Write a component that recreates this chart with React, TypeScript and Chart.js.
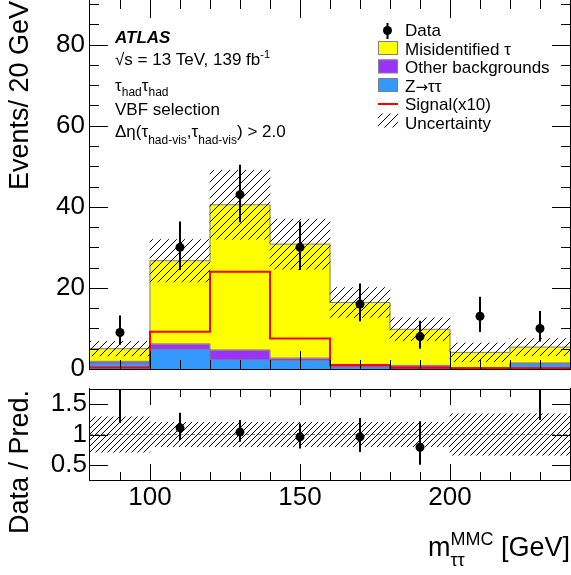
import React, { useEffect, useRef } from 'react';
import { Chart, registerables } from 'chart.js';
Chart.register(...registerables);

const FONT = '"Liberation Sans", Arial, Helvetica, sans-serif';

// ---------------- data ----------------
const binEdges = [80, 100, 120, 140, 160, 180, 200, 220, 240];
const binCenters = [90, 110, 130, 150, 170, 190, 210, 230];
const zttValues = [1.5, 4.9, 2.3, 2.1, 0.5, 0.2, 0.15, 1.3];
const otherValues = [0.4, 1.3, 2.4, 0.6, 0.5, 0.7, 0.2, 0.2];
const misidValues = [3.1, 20.5, 35.8, 28.1, 15.4, 8.9, 3.75, 3.9];
const signalX10 = [0.35, 9.2, 24.0, 7.5, 1.0, 0.3, 0.2, 0.2];
const uncertainty = [1.8, 5.2, 8.5, 6.2, 3.7, 2.8, 2.3, 2.1];
const dataCounts = [9, 30, 43, 30, 16, 8, 13, 10];
const dataErrLow = [6.0, 24.4, 36.2, 24.4, 11.8, 5.0, 9.1, 6.8];
const dataErrHigh = [13.2, 36.4, 50.4, 36.4, 21.1, 11.9, 17.8, 14.3];
const ratioValues = [1.84, 1.11, 1.04, 0.96, 0.96, 0.79, 3.2, 1.85];
const ratioErrLow = [1.19, 0.91, 0.88, 0.77, 0.71, 0.5, 2.2, 1.24];
const ratioErrHigh = [2.64, 1.36, 1.24, 1.18, 1.27, 1.22, 4.4, 2.65];
const ratioBand = [0.29, 0.2, 0.2, 0.2, 0.2, 0.2, 0.34, 0.34];
const yTicksMain = [0, 20, 40, 60, 80];
const yTicksRatio = [0.5, 1, 1.5];
const xTickLabels = [100, 150, 200];

const COL_MISID = '#ffff00';
const COL_OTHER = '#9933ff';
const COL_ZTT = '#3399ff';
const COL_SIG = '#ff0000';
const COL_EDGE = '#808080';

// ---------------- helpers ----------------
function makeHatch(period: number, lw = 1): CanvasPattern {
  const c = document.createElement('canvas');
  c.width = period;
  c.height = period;
  const g = c.getContext('2d')!;
  g.strokeStyle = '#000';
  g.lineWidth = lw;
  g.beginPath();
  for (const o of [-period, 0, period]) {
    g.moveTo(o, period);
    g.lineTo(o + period, 0);
  }
  g.stroke();
  return g.createPattern(c, 'repeat')!;
}

// points at left bin edges plus the final right edge; drawn with stepped 'before'
const stepPoints = (vals: number[]) => [
  ...vals.map((v, i) => ({ x: binEdges[i], y: v })),
  { x: binEdges[binEdges.length - 1], y: vals[vals.length - 1] },
];

type Seg = { t: string; size: number; dy?: number; bold?: boolean; italic?: boolean; noAdvance?: boolean; family?: string };
function fontOf(s: Seg) {
  return `${s.italic ? 'italic ' : ''}${s.bold ? 'bold ' : ''}${s.size}px ${s.family || FONT}`;
}
function measureRich(ctx: CanvasRenderingContext2D, segs: Seg[]) {
  let w = 0;
  let pending = 0;
  for (const s of segs) {
    ctx.font = fontOf(s);
    const m = ctx.measureText(s.t).width;
    if (s.noAdvance) pending = m;
    else {
      w += Math.max(m, pending);
      pending = 0;
    }
  }
  return w;
}
function drawRich(ctx: CanvasRenderingContext2D, x: number, y: number, segs: Seg[]) {
  let cx = x;
  let pending = 0;
  ctx.textAlign = 'left';
  ctx.textBaseline = 'alphabetic';
  for (const s of segs) {
    ctx.font = fontOf(s);
    ctx.fillText(s.t, cx, y + (s.dy || 0));
    const m = ctx.measureText(s.t).width;
    if (s.noAdvance) pending = m;
    else {
      cx += Math.max(m, pending);
      pending = 0;
    }
  }
}

function hline(ctx: CanvasRenderingContext2D, x1: number, x2: number, y: number) {
  ctx.beginPath();
  ctx.moveTo(x1, y);
  ctx.lineTo(x2, y);
  ctx.stroke();
}
function vline(ctx: CanvasRenderingContext2D, x: number, y1: number, y2: number) {
  ctx.beginPath();
  ctx.moveTo(x, y1);
  ctx.lineTo(x, y2);
  ctx.stroke();
}

function drawFrameTicks(chart: any, cfg: any) {
  const { ctx, chartArea: a, scales } = chart;
  const { x, y } = scales;
  ctx.save();
  ctx.strokeStyle = '#000';
  ctx.lineWidth = 1;
  const L = a.left - 0.5;
  const R = a.right + 0.5;
  const B = a.bottom + 0.5;
  const T = a.top + 0.5;
  vline(ctx, L, a.top - 1, a.bottom + 1);
  vline(ctx, R, a.top - 1, a.bottom + 1);
  hline(ctx, L, R, B);
  if (cfg.drawTop) hline(ctx, L, R, T);
  for (let v = cfg.xMin + cfg.xMinorStep; v < cfg.xMax; v += cfg.xMinorStep) {
    const isMajor = cfg.xMajor.includes(v);
    const len = isMajor ? cfg.xMajorLen : cfg.xMinorLen;
    const px = Math.round(x.getPixelForValue(v)) + 0.5;
    vline(ctx, px, a.bottom, a.bottom - len);
    vline(ctx, px, a.top, a.top + len);
  }
  const yl: number[] = [];
  if (cfg.yMinorStep) {
    for (let v = cfg.yMin; v <= cfg.yMax + 1e-9; v += cfg.yMinorStep) yl.push(Math.round(v * 1000) / 1000);
  }
  for (const v of cfg.yMajor) if (!yl.includes(v)) yl.push(v);
  for (const v of yl) {
    const isMajor = cfg.yMajor.includes(v);
    const len = isMajor ? cfg.yMajorLen : cfg.yMinorLen;
    const py = Math.round(y.getPixelForValue(v)) + 0.5;
    if (py < a.top || py > a.bottom + 1) continue;
    hline(ctx, a.left, a.left + len, py);
    hline(ctx, a.right - len, a.right, py);
  }
  ctx.restore();
}

function drawErrorBars(chart: any, lo: number[], hi: number[]) {
  const { ctx, chartArea: a, scales } = chart;
  const { x, y } = scales;
  ctx.save();
  ctx.beginPath();
  ctx.rect(a.left, a.top, a.right - a.left, a.bottom - a.top);
  ctx.clip();
  ctx.strokeStyle = '#000';
  ctx.lineWidth = 2;
  binCenters.forEach((c, i) => {
    const px = x.getPixelForValue(c);
    vline(ctx, px, y.getPixelForValue(lo[i]), y.getPixelForValue(hi[i]));
  });
  ctx.restore();
}

function drawVerticalTitle(ctx: CanvasRenderingContext2D, text: string, cx: number, topY: number, size: number) {
  ctx.save();
  ctx.translate(cx, topY);
  ctx.rotate(-Math.PI / 2);
  ctx.font = `${size}px ${FONT}`;
  ctx.fillStyle = '#000';
  ctx.textAlign = 'right';
  ctx.textBaseline = 'middle';
  ctx.fillText(text, 0, 0);
  ctx.restore();
}

const commonScale = {
  grid: { display: false, drawTicks: false },
  border: { display: false },
};

export default function App() {
  const mainRef = useRef<HTMLCanvasElement>(null);
  const ratioRef = useRef<HTMLCanvasElement>(null);

  useEffect(() => {
    const hatchMain = makeHatch(8);
    const hatchRatio = makeHatch(6);

    const cum1 = zttValues.slice();
    const cum2 = zttValues.map((v, i) => v + otherValues[i]);
    const cum3 = cum2.map((v, i) => v + misidValues[i]);

    const barBase = { type: 'bar', grouped: false, barPercentage: 1, categoryPercentage: 1, borderWidth: 0 };
    const outline = { type: 'line', stepped: 'before', borderColor: COL_EDGE, borderWidth: 1, pointRadius: 0, fill: false };

    const mainPlugin = {
      id: 'mainDecor',
      afterDatasetsDraw(chart: any) {
        drawErrorBars(chart, dataErrLow, dataErrHigh);
      },
      afterDraw(chart: any) {
        const ctx: CanvasRenderingContext2D = chart.ctx;
        drawFrameTicks(chart, {
          drawTop: false,
          xMin: 80, xMax: 240, xMinorStep: 10, xMajor: [100, 150, 200], xMajorLen: 18, xMinorLen: 9,
          yMin: 0, yMax: 90, yMinorStep: 5, yMajor: yTicksMain, yMajorLen: 18, yMinorLen: 9,
        });
        ctx.save();
        ctx.fillStyle = '#000';
        drawRich(ctx, 115, 43, [{ t: 'ATLAS', size: 17, bold: true, italic: true }]);
        drawRich(ctx, 115, 65, [
          { t: '\u221As = 13 TeV, 139 fb', size: 17 },
          { t: '-1', size: 11, dy: -7 },
        ]);
        drawRich(ctx, 115, 91, [
          { t: '\u03C4', size: 17 },
          { t: 'had', size: 12, dy: 5 },
          { t: '\u03C4', size: 17 },
          { t: 'had', size: 12, dy: 5 },
        ]);
        drawRich(ctx, 115, 115, [{ t: 'VBF selection', size: 17 }]);
        drawRich(ctx, 115, 137, [
          { t: '\u0394\u03B7(\u03C4', size: 17 },
          { t: 'had-vis', size: 12, dy: 7 },
          { t: ',\u03C4', size: 17 },
          { t: 'had-vis', size: 12, dy: 7 },
          { t: ') > 2.0', size: 17 },
        ]);
        // legend
        const lx = 378;
        const tx = 405;
        const base = [36, 54.5, 73, 91.5, 110, 128.5];
        ctx.strokeStyle = '#000';
        ctx.lineWidth = 2;
        vline(ctx, 387.5, base[0] - 13, base[0] + 3);
        ctx.beginPath();
        ctx.arc(387.5, base[0] - 5.5, 4.5, 0, Math.PI * 2);
        ctx.fill();
        const boxes = [COL_MISID, COL_OTHER, COL_ZTT];
        boxes.forEach((c, k) => {
          const b = base[k + 1];
          ctx.fillStyle = c;
          ctx.fillRect(lx, b - 13.5, 19.5, 13.5);
          ctx.strokeStyle = COL_EDGE;
          ctx.lineWidth = 1;
          ctx.strokeRect(lx + 0.5, b - 13, 19, 13);
        });
        ctx.strokeStyle = COL_SIG;
        ctx.lineWidth = 2;
        hline(ctx, lx, lx + 20, base[4] - 6);
        ctx.fillStyle = hatchMain;
        ctx.fillRect(lx, base[5] - 15, 20, 14);
        ctx.fillStyle = '#000';
        drawRich(ctx, tx, base[0], [{ t: 'Data', size: 17 }]);
        drawRich(ctx, tx, base[1], [{ t: 'Misidentified \u03C4', size: 17 }]);
        drawRich(ctx, tx, base[2], [{ t: 'Other backgrounds', size: 17 }]);
        drawRich(ctx, tx, base[3], [
          { t: 'Z', size: 17 },
          { t: '\u2192', size: 15, family: '"DejaVu Sans", sans-serif' },
          { t: '\u03C4\u03C4', size: 17 },
        ]);
        drawRich(ctx, tx, base[4], [{ t: 'Signal(x10)', size: 17 }]);
        drawRich(ctx, tx, base[5], [{ t: 'Uncertainty', size: 17 }]);
        drawVerticalTitle(ctx, 'Events/ 20 GeV', 21, 1, 27);
        ctx.restore();
      },
    };

    const main = new Chart(mainRef.current!, {
      type: 'bar',
      data: {
        datasets: [
          {
            type: 'line', label: 'Data', order: 0, showLine: false,
            data: binCenters.map((x, i) => ({ x, y: dataCounts[i] })),
            pointRadius: 4.5, pointBackgroundColor: '#000', pointBorderWidth: 0,
          },
          {
            ...barBase, label: 'Uncertainty', order: 1, backgroundColor: hatchMain,
            data: binCenters.map((x, i) => ({ x, y: [cum3[i] - uncertainty[i], cum3[i] + uncertainty[i]] })),
          },
          {
            type: 'line', label: 'Signal(x10)', order: 2, stepped: 'before', borderColor: COL_SIG,
            borderWidth: 2, pointRadius: 0, fill: false, data: stepPoints(signalX10),
          },
          { ...outline, label: 'edge3', order: 3, data: stepPoints(cum3) },
          { ...outline, label: 'edge2', order: 3, data: stepPoints(cum2) },
          { ...outline, label: 'edge1', order: 3, data: stepPoints(cum1) },
          {
            ...barBase, label: 'Misidentified', order: 4, backgroundColor: COL_MISID,
            data: binCenters.map((x, i) => ({ x, y: [cum2[i], cum3[i]] })),
          },
          {
            ...barBase, label: 'Other', order: 5, backgroundColor: COL_OTHER,
            data: binCenters.map((x, i) => ({ x, y: [cum1[i], cum2[i]] })),
          },
          {
            ...barBase, label: 'Ztautau', order: 6, backgroundColor: COL_ZTT,
            data: binCenters.map((x, i) => ({ x, y: [0, cum1[i]] })),
          },
        ] as any,
      },
      options: {
        animation: false,
        responsive: false,
        maintainAspectRatio: false,
        devicePixelRatio: 1,
        events: [],
        layout: { autoPadding: false, padding: { left: 0, right: 1, top: 0, bottom: 0 } },
        plugins: { legend: { display: false }, tooltip: { enabled: false } },
        scales: {
          x: {
            type: 'linear', min: 80, max: 240, offset: false, ...commonScale,
            ticks: { display: false },
            afterFit: (s: any) => { s.height = 21; s.paddingLeft = 0; s.paddingRight = 0; },
          },
          y: {
            type: 'linear', min: 0, max: 91, ...commonScale,
            ticks: { font: { family: FONT, size: 26 }, color: '#000', padding: 5, callback: (v: any) => String(v) },
            afterBuildTicks: (s: any) => { s.ticks = yTicksMain.map((v) => ({ value: v })); },
            afterFit: (s: any) => { s.width = 90; s.paddingTop = 0; s.paddingBottom = 0; },
          },
        },
      } as any,
      plugins: [mainPlugin],
    });

    const ratioPlugin = {
      id: 'ratioDecor',
      afterDatasetsDraw(chart: any) {
        drawErrorBars(chart, ratioErrLow, ratioErrHigh);
      },
      afterDraw(chart: any) {
        const ctx: CanvasRenderingContext2D = chart.ctx;
        const a = chart.chartArea;
        drawFrameTicks(chart, {
          drawTop: true,
          xMin: 80, xMax: 240, xMinorStep: 10, xMajor: [100, 150, 200], xMajorLen: 16, xMinorLen: 8,
          yMin: 0.5, yMax: 1.5, yMinorStep: 0, yMajor: yTicksRatio, yMajorLen: 18, yMinorLen: 9,
        });
        ctx.save();
        ctx.fillStyle = '#000';
        drawVerticalTitle(ctx, 'Data / Pred.', 21, a.top + 1, 27);
        const segs: Seg[] = [
          { t: 'm', size: 27 },
          { t: '\u03C4\u03C4', size: 18, dy: 10, noAdvance: true },
          { t: 'MMC', size: 18, dy: -11 },
          { t: ' [GeV]', size: 27 },
        ];
        const w = measureRich(ctx, segs);
        drawRich(ctx, 570 - w, 176, segs);
        ctx.restore();
      },
    };

    const ratio = new Chart(ratioRef.current!, {
      type: 'bar',
      data: {
        datasets: [
          {
            type: 'line', label: 'Ratio', order: 0, showLine: false, clip: 0,
            data: binCenters.map((x, i) => ({ x, y: ratioValues[i] })),
            pointRadius: 4.5, pointBackgroundColor: '#000', pointBorderWidth: 0,
          },
          {
            type: 'line', label: 'one', order: 1, borderColor: '#808080', borderWidth: 1,
            borderDash: [3, 3], pointRadius: 0, fill: false,
            data: [{ x: 80, y: 1 }, { x: 240, y: 1 }],
          },
          {
            ...barBase, label: 'Band', order: 2, backgroundColor: hatchRatio,
            data: binCenters.map((x, i) => ({ x, y: [1 - ratioBand[i], 1 + ratioBand[i]] })),
          },
        ] as any,
      },
      options: {
        animation: false,
        responsive: false,
        maintainAspectRatio: false,
        devicePixelRatio: 1,
        events: [],
        layout: { autoPadding: false, padding: { left: 0, right: 1, top: 9, bottom: 0 } },
        plugins: { legend: { display: false }, tooltip: { enabled: false } },
        scales: {
          x: {
            type: 'linear', min: 80, max: 240, offset: false, ...commonScale,
            ticks: { font: { family: FONT, size: 26 }, color: '#000', padding: 2, maxRotation: 0, autoSkip: false, callback: (v: any) => String(v) },
            afterBuildTicks: (s: any) => { s.ticks = xTickLabels.map((v) => ({ value: v })); },
            afterFit: (s: any) => { s.height = 95; s.paddingLeft = 0; s.paddingRight = 0; },
          },
          y: {
            type: 'linear', min: 0.25, max: 1.75, ...commonScale,
            ticks: { font: { family: FONT, size: 26 }, color: '#000', padding: 3, callback: (v: any) => String(v) },
            afterBuildTicks: (s: any) => { s.ticks = yTicksRatio.map((v) => ({ value: v })); },
            afterFit: (s: any) => { s.width = 90; s.paddingTop = 0; s.paddingBottom = 0; },
          },
        },
      } as any,
      plugins: [ratioPlugin],
    });

    return () => {
      main.destroy();
      ratio.destroy();
    };
  }, []);

  return (
    <div style={{ position: 'fixed', left: 0, top: 0, width: 571, height: 575, background: '#fff', overflow: 'hidden' }}>
      <canvas ref={mainRef} width={571} height={390} style={{ position: 'absolute', left: 0, top: 0, width: 571, height: 390 }} />
      <canvas ref={ratioRef} width={571} height={195} style={{ position: 'absolute', left: 0, top: 380, width: 571, height: 195 }} />
    </div>
  );
}
